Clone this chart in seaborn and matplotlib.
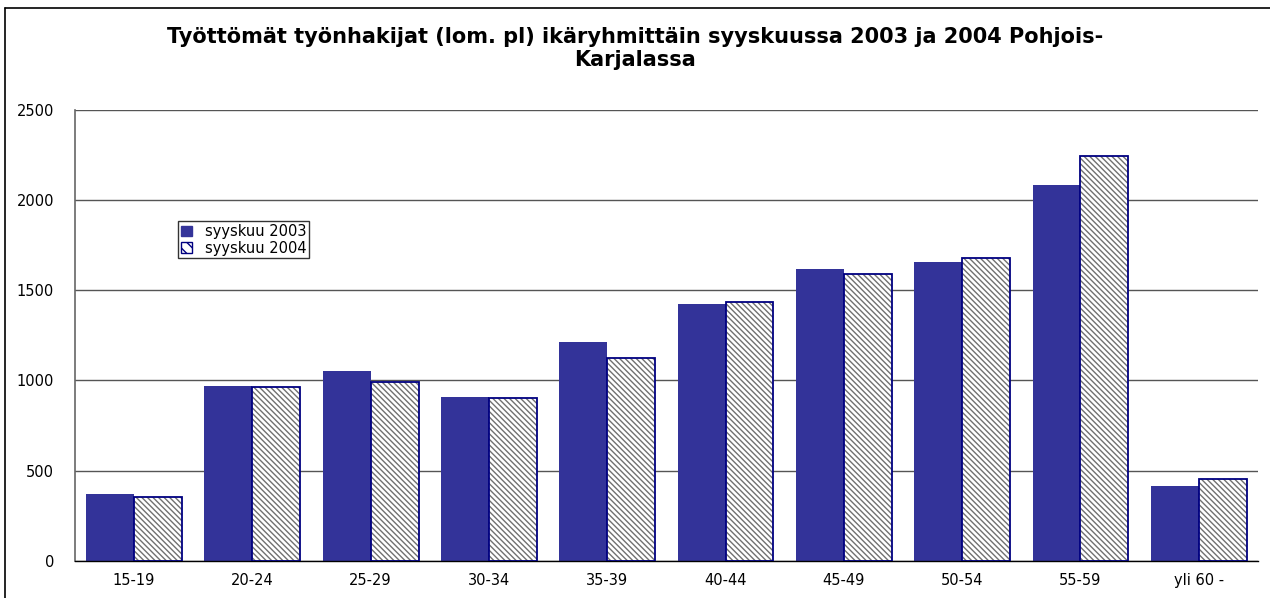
import matplotlib
matplotlib.use("Agg")
import matplotlib.pyplot as plt
from matplotlib.patches import Rectangle, Patch
from matplotlib.lines import Line2D
import pandas as pd
import numpy as np
import seaborn as sns

# ikäryhmät ja työttömät työnhakijat
ikaryhmat = ["15-19", "20-24", "25-29", "30-34", "35-39", "40-44",
             "45-49", "50-54", "55-59", "yli 60 -"]
syys_2003 = [371, 969, 1052, 908, 1213, 1423, 1617, 1656, 2082, 415]
syys_2004 = [353, 964, 989, 903, 1124, 1434, 1588, 1678, 2241, 456]
sarjat = ["syyskuu 2003", "syyskuu 2004"]

df = pd.DataFrame({
    "ikaryhma": ikaryhmat * 2,
    "maara": syys_2003 + syys_2004,
    "sarja": [sarjat[0]] * len(ikaryhmat) + [sarjat[1]] * len(ikaryhmat),
})

sns.set_style("white")
plt.rcParams['font.family'] = ['DejaVu Sans']
plt.rcParams['text.color'] = 'black'
plt.rcParams['xtick.labelcolor'] = 'black'
plt.rcParams['ytick.labelcolor'] = 'black'
plt.rcParams['hatch.linewidth'] = 1.0

fig = plt.figure(figsize=(12.7, 5.98), dpi=100)
ax = fig.add_axes([0.059, 0.0619, 0.9315, 0.7547])

sns.barplot(data=df, x="ikaryhma", y="maara", hue="sarja", order=ikaryhmat,
            hue_order=sarjat, palette=["#333399", "white"], width=0.81,
            gap=0, saturation=1, errorbar=None, legend=False, ax=ax, zorder=2)

# kuviointi 2004-pylväisiin: harmaa viivoitus + tummansininen reunus
n = len(ikaryhmat)
for i, p in enumerate(ax.patches[:2 * n]):
    if i < n:
        p.set_edgecolor("#333399")
        p.set_linewidth(0)
    else:
        p.set_facecolor("white")
        p.set_edgecolor("#707070")
        p.set_hatch("\\\\\\\\\\\\")
        p.set_linewidth(0)
        ax.add_patch(Rectangle(p.get_xy(), p.get_width(), p.get_height(),
                               fill=False, edgecolor="#000080", lw=1.3, zorder=3))

ax.set_xlim(-0.5, n - 0.5)
ax.set_ylim(0, 2500)
ax.set_yticks([0, 500, 1000, 1500, 2000, 2500])
ax.yaxis.grid(True, color="#555555", lw=1.0, zorder=0)
ax.set_axisbelow(True)
ax.set_xlabel("")
ax.set_ylabel("")

ax.set_xticks(np.arange(-0.5, n, 1), minor=True)
ax.tick_params(axis="x", which="major", length=0, labelsize=10.5, pad=9)
ax.tick_params(axis="x", which="minor", direction="inout", length=8, color="black")
ax.tick_params(axis="y", which="major", direction="out", length=8, color="#555555",
               labelsize=10.5, pad=7)

for s in ["top", "right"]:
    ax.spines[s].set_visible(False)
ax.spines["left"].set_color("#666666")
ax.spines["left"].set_linewidth(1.2)
ax.spines["bottom"].set_color("black")
ax.spines["bottom"].set_linewidth(1.0)

handles = [Patch(facecolor="#333399", edgecolor="#333399"),
           Patch(facecolor="white", edgecolor="#000080", hatch="\\\\\\")]
leg = ax.legend(handles, sarjat, loc="upper left", bbox_to_anchor=(0.087, 0.753),
                frameon=True, fancybox=False, fontsize=10.5, handlelength=0.75,
                handleheight=0.75, borderpad=0.2, labelspacing=0.1,
                handletextpad=0.9, borderaxespad=0)
leg.get_frame().set_edgecolor("black")
leg.get_frame().set_linewidth(1.0)

fig.text(0.5, 0.919, "Työttömät työnhakijat (lom. pl) ikäryhmittäin syyskuussa 2003 ja 2004 Pohjois-\nKarjalassa",
         ha="center", va="center", fontsize=15, fontweight="bold", linespacing=1.22)

# kaavion kehys
fig.add_artist(Line2D([5 / 1270, 5 / 1270], [0, 1 - 8 / 598], color="black", lw=1.2))
fig.add_artist(Line2D([5 / 1270, 1], [1 - 8 / 598, 1 - 8 / 598], color="black", lw=1.2))

fig.savefig("out.png", dpi=100)
